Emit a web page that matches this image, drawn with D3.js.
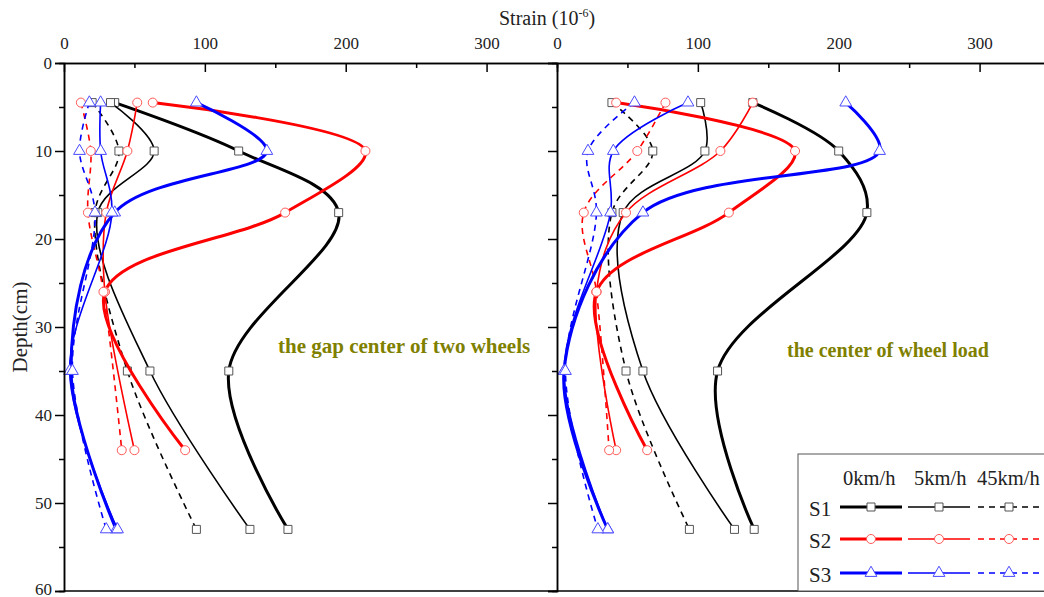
<!DOCTYPE html>
<html>
<head>
<meta charset="utf-8">
<script src="https://cdn.jsdelivr.net/npm/d3@7"></script>
<style>
  body { margin: 0; background: #fff; }
  svg { display: block; font-family: "Liberation Serif", "Times New Roman", serif; }
</style>
</head>
<body>
<svg width="1044" height="597"></svg>
<script>
// depths (cm) where each layer was measured
const depthS1 = [4.5, 10, 17, 35, 53];
const depthS2 = [4.5, 10, 17, 26, 44];
const depthS3 = [4.5, 10, 17, 35, 53];

const speeds = ["0km/h", "5km/h", "45km/h"];
const layers = ["S1", "S2", "S3"];

// strain (1e-6), one row per speed: 0, 5, 45 km/h
// panel 1 : the gap center of two wheels
const gapS1 = [[36, 124, 195, 117, 159], [33, 64, 24, 61, 132], [20, 39, 22, 45, 94]];
const gapS2 = [[63, 214, 157, 29, 86], [52, 45, 30, 29, 50], [12, 19, 17, 28, 41]];
const gapS3 = [[94, 144, 36, 5, 37], [26, 26, 34, 4, 38], [18, 11, 22, 6, 30]];
// panel 2 : the center of wheel load
const loadS1 = [[139, 200, 220, 114, 140], [102, 105, 47, 61, 126], [39, 68, 39, 49, 94]];
const loadS2 = [[42, 169, 122, 28, 64], [139, 116, 49, 28, 42], [77, 57, 19, 28, 37]];
const loadS3 = [[205, 229, 61, 5, 36], [93, 40, 38, 5, 36], [55, 22, 28, 6, 29]];

const xTicks = [0, 100, 200, 300];
const yTicks = [0, 10, 20, 30, 40, 50, 60];

const svg = d3.select("svg");
const top0 = 63, bottom0 = 591;
const colors = ["#000000", "#ff0000", "#0000ff"];
const markStroke = ["#555555", "#ff5a5a", "#4a4aff"];
const symbols = [d3.symbolSquare, d3.symbolCircle, d3.symbolTriangle];
const widths = [3, 1.6, 1.6];
const dashes = [null, null, "6,5"];

const y = d3.scaleLinear().domain([0, 60]).range([top0, bottom0]);

const panels = [
  { x0: 64, x1: 557, data: [gapS1, gapS2, gapS3], note: "the gap center of two wheels", nx: 278, ny: 353, fs: 21, labels: true },
  { x0: 557, x1: 1050, data: [loadS1, loadS2, loadS3], note: "the center of wheel load", nx: 787, ny: 357, fs: 20, labels: false }
];
const depthSets = [depthS1, depthS2, depthS3];

panels.forEach(p => {
  const x = d3.scaleLinear().domain([0, 350]).range([p.x0, p.x1]);
  const g = svg.append("g");

  const line = d3.line().x(d => x(d.v)).y(d => y(d.d)).curve(d3.curveCatmullRom.alpha(0.5));

  p.data.forEach((layer, li) => {
    layer.forEach((vals, si) => {
      const pts = vals.map((v, i) => ({ v: v, d: depthSets[li][i] }));
      g.append("path")
        .attr("d", line(pts))
        .attr("fill", "none")
        .attr("stroke", colors[li])
        .attr("stroke-width", widths[si])
        .attr("stroke-dasharray", dashes[si]);
      g.selectAll(null).data(pts).enter().append("path")
        .attr("d", d3.symbol().type(symbols[li]).size(li == 2 ? 60 : 64))
        .attr("transform", d => "translate(" + x(d.v) + "," + y(d.d) + ")")
        .attr("fill", "#fff")
        .attr("stroke", markStroke[li])
        .attr("stroke-width", 1);
    });
  });

  // top axis, ticks inward
  svg.append("g").attr("transform", "translate(0," + top0 + ")")
    .call(d3.axisTop(x).tickValues(xTicks).tickSizeInner(-9).tickSizeOuter(0).tickPadding(14));
  svg.append("g").attr("transform", "translate(0," + top0 + ")")
    .call(d3.axisTop(x).tickValues([50, 150, 250, 350]).tickSizeInner(-5).tickSizeOuter(0).tickFormat(""));
  // left axis, ticks outward
  svg.append("g").attr("class", "yax").attr("transform", "translate(" + p.x0 + ",0)")
    .call(d3.axisLeft(y).tickValues(yTicks).tickSize(9).tickPadding(3).tickFormat(p.labels ? d3.format("d") : ""));
  svg.append("g").attr("transform", "translate(" + p.x0 + ",0)")
    .call(d3.axisLeft(y).tickValues([5, 15, 25, 35, 45, 55]).tickSize(5).tickFormat(""));

  svg.append("text")
    .attr("x", p.nx).attr("y", p.ny)
    .attr("fill", "#808000")
    .attr("font-weight", "bold")
    .style("font-size", p.fs + "px")
    .text(p.note);
});

svg.selectAll(".tick text").style("font-size", "17px").style("font-family", "'Liberation Serif', serif").attr("fill", "#222");
svg.selectAll(".yax .tick text").filter(d => d == 60).attr("dy", "0.2em");
svg.selectAll(".domain").attr("stroke-width", 1.5);
svg.selectAll(".tick line").attr("stroke-width", 1.5);

// bottom frame
svg.append("line").attr("x1", 64).attr("x2", 1050).attr("y1", bottom0).attr("y2", bottom0)
  .attr("stroke", "#000").attr("stroke-width", 1.5);

// axis titles
const title = svg.append("text").attr("x", 499).attr("y", 25).style("font-size", "20px").attr("fill", "#222");
title.append("tspan").text("Strain (10");
title.append("tspan").attr("dy", -8).style("font-size", "12px").text("-6");
title.append("tspan").attr("dy", 8).text(")");

svg.append("text")
  .attr("transform", "translate(27,327) rotate(-90)")
  .attr("text-anchor", "middle")
  .style("font-size", "21px").attr("fill", "#222")
  .text("Depth(cm)");

// legend
const lg = svg.append("g");
lg.append("rect").attr("x", 798).attr("y", 454).attr("width", 300).attr("height", 137)
  .attr("fill", "#fff").attr("stroke", "#555").attr("stroke-width", 1);
const colX = [[840, 902], [908, 970], [978, 1044]];
const headX = [843, 914, 977];
speeds.forEach((s, si) => {
  lg.append("text").attr("x", headX[si]).attr("y", 485).style("font-size", "20.5px").attr("fill", "#222").text(s);
});
const rowY = [507, 539, 573];
layers.forEach((l, li) => {
  lg.append("text").attr("x", 809).attr("y", rowY[li] + 9).style("font-size", "21px").attr("fill", "#222").text(l);
  speeds.forEach((s, si) => {
    lg.append("line")
      .attr("x1", colX[si][0]).attr("x2", colX[si][1])
      .attr("y1", rowY[li]).attr("y2", rowY[li])
      .attr("stroke", colors[li]).attr("stroke-width", widths[si])
      .attr("stroke-dasharray", dashes[si]);
    lg.append("path")
      .attr("d", d3.symbol().type(symbols[li]).size(li == 2 ? 60 : 64))
      .attr("transform", "translate(" + ((colX[si][0] + colX[si][1]) / 2 + (si == 2 ? -2 : 0)) + "," + rowY[li] + ")")
      .attr("fill", "#fff").attr("stroke", markStroke[li]).attr("stroke-width", 1);
  });
});
</script>
</body>
</html>
